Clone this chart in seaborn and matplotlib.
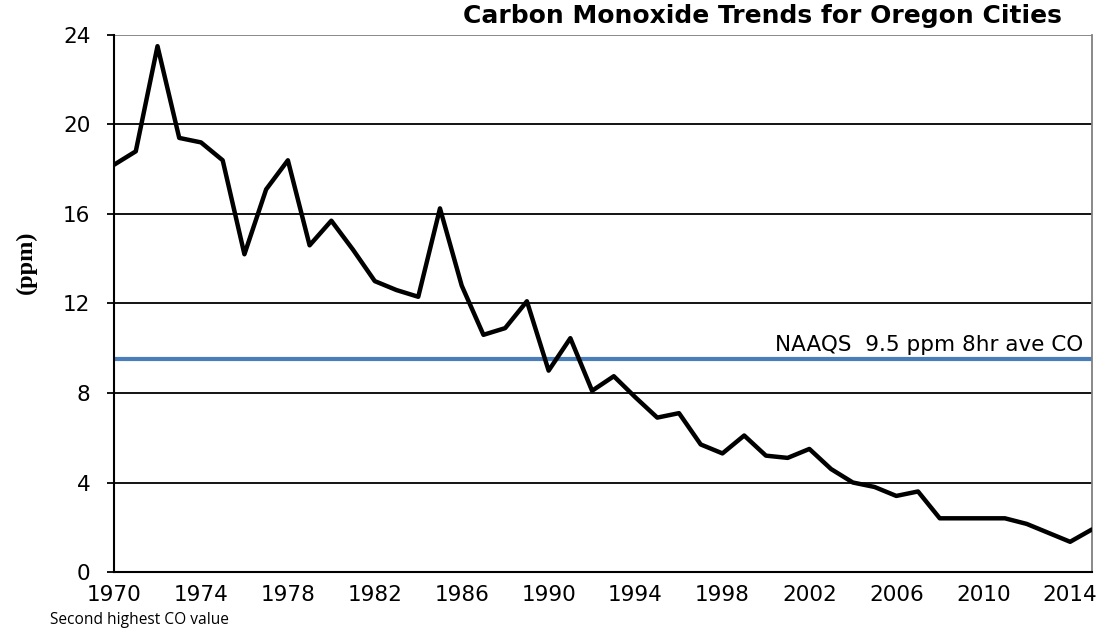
import pandas as pd
import matplotlib.pyplot as plt
import seaborn as sns

# Second highest CO value per year (ppm)
years = list(range(1970, 2016))
co_ppm = [18.2, 18.8, 23.5, 19.4, 19.2, 18.4, 14.2, 17.1, 18.4, 14.6,
          15.7, 14.4, 13.0, 12.6, 12.3, 16.25, 12.8, 10.6, 10.9, 12.1,
          9.0, 10.45, 8.1, 8.75, 7.8, 6.9, 7.1, 5.7, 5.3, 6.1,
          5.2, 5.1, 5.5, 4.6, 4.0, 3.8, 3.4, 3.6, 2.4, 2.4,
          2.4, 2.4, 2.15, 1.75, 1.35, 1.9]
naaqs = 9.5
x_ticks = list(range(1970, 2015, 4))
y_ticks = [0, 4, 8, 12, 16, 20, 24]

data = pd.DataFrame({"Year": years, "CO": co_ppm})

sns.set_style("white")
plt.rcParams['font.family'] = ['DejaVu Sans']
plt.rcParams['text.color'] = 'black'
plt.rcParams['xtick.color'] = 'black'
plt.rcParams['ytick.color'] = 'black'
plt.rcParams['axes.labelcolor'] = 'black'

fig = plt.figure(figsize=(11.04, 6.35), dpi=100)
ax = fig.add_axes([0.1033, 0.0992, 0.8857, 0.8457])

# grid lines
for y in y_ticks[1:-1]:
    ax.axhline(y, color="black", lw=1.3, zorder=1)
ax.axhline(24, color="#808080", lw=1.3, zorder=1)

ax.axhline(naaqs, color="#4a7ebb", lw=3, zorder=2)
sns.lineplot(data=data, x="Year", y="CO", ax=ax, color="black", lw=3.2,
             zorder=3, solid_joinstyle="round", solid_capstyle="round")

ax.text(2014.6, naaqs + 0.2, "NAAQS  9.5 ppm 8hr ave CO", ha="right", va="bottom",
        fontsize=15.5)

ax.set_xlim(1970, 2015)
ax.set_ylim(0, 24)
ax.set_xticks(x_ticks)
ax.set_yticks(y_ticks)
ax.tick_params(axis="x", direction="in", length=5, width=1.3, labelsize=15.5, pad=9)
ax.tick_params(axis="y", direction="out", length=5, width=1.3, labelsize=15.5, pad=12,
               left=True)
ax.set_xlabel("")
ax.set_ylabel("(ppm)", fontsize=17.5, fontweight="bold", family="Liberation Serif")
ax.yaxis.set_label_coords(-0.079, 0.577)

for side in ["left", "bottom"]:
    ax.spines[side].set_color("black")
    ax.spines[side].set_linewidth(1.5)
ax.spines["top"].set_visible(False)
ax.spines["right"].set_color("#808080")
ax.spines["right"].set_linewidth(1.3)

fig.text(0.962, 0.975, "Carbon Monoxide Trends for Oregon Cities", ha="right",
         va="center", fontsize=18, fontweight="bold")
fig.text(0.045, 0.023, "Second highest CO value", ha="left", va="center",
         fontsize=11.2, family="Open Sans")

fig.savefig("out.png", dpi=100)
